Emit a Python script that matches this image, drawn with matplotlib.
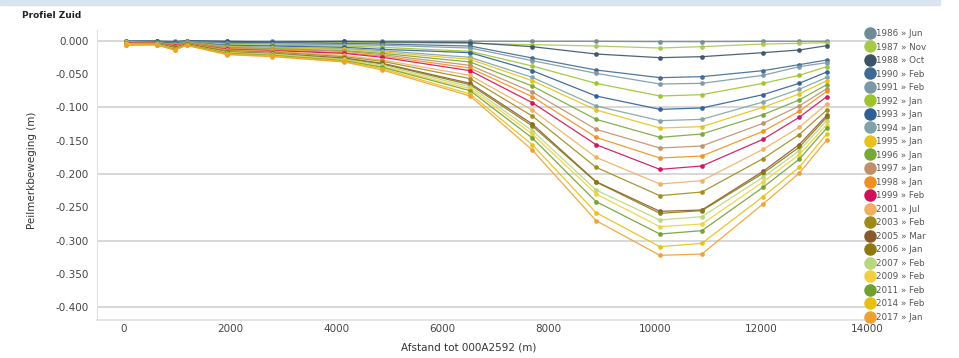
import matplotlib
matplotlib.use("Agg")
import matplotlib.pyplot as plt
from matplotlib.lines import Line2D
from matplotlib.patches import Rectangle

# ─── data ──────────────────────────────────────────────────────
afstand = [50, 620, 960, 1185, 1940, 2800, 4150, 4870, 6520, 7690,
           8890, 10090, 10880, 12030, 12710, 13230]

labels = ["1986 » Jun", "1987 » Nov", "1988 » Oct", "1990 » Feb", "1991 » Feb",
          "1992 » Jan", "1993 » Jan", "1994 » Jan", "1995 » Jan", "1996 » Jan",
          "1997 » Jan", "1998 » Jan", "1999 » Feb", "2001 » Jul", "2003 » Feb",
          "2005 » Mar", "2006 » Jan", "2007 » Feb", "2009 » Feb", "2011 » Feb",
          "2014 » Feb", "2017 » Jan"]

colors = ["#6f8d98", "#a8c84a", "#3a5366", "#3f6a94", "#7c98a6",
          "#9dc42c", "#2f5f94", "#7fa3a8", "#e6c21a", "#78a838",
          "#c0906a", "#f0901e", "#d0105a", "#f0b060", "#a08a18",
          "#8a5a2a", "#8c7a10", "#b8d880", "#f0d040", "#70a030",
          "#e8c010", "#f0a030"]

s1986 = [0.000, 0.000, -0.001, 0.000, -0.001, -0.001, -0.001, -0.001, -0.001, -0.001, -0.001, -0.0015, -0.0015, -0.001, -0.001, -0.001]
s1987 = [-0.002, -0.001, -0.003, -0.001, -0.003, -0.003, -0.003, -0.003, -0.004, -0.006, -0.008, -0.011, -0.009, -0.005, -0.004, -0.003]
s1988 = [-0.001, -0.001, -0.002, 0.000, -0.001, -0.002, -0.001, -0.002, -0.003, -0.009, -0.020, -0.0255, -0.024, -0.018, -0.014, -0.0075]
s1990 = [-0.001, -0.001, -0.003, -0.001, -0.003, -0.003, -0.004, -0.005, -0.008, -0.026, -0.044, -0.0555, -0.054, -0.045, -0.036, -0.029]
s1991 = [-0.001, -0.002, -0.003, -0.001, -0.004, -0.005, -0.006, -0.007, -0.011, -0.030, -0.049, -0.065, -0.064, -0.052, -0.039, -0.033]
s1992 = [-0.002, -0.002, -0.004, -0.002, -0.006, -0.007, -0.008, -0.010, -0.016, -0.038, -0.064, -0.083, -0.081, -0.064, -0.052, -0.039]
s1993 = [-0.002, -0.002, -0.004, -0.002, -0.007, -0.008, -0.010, -0.013, -0.018, -0.045, -0.083, -0.103, -0.101, -0.081, -0.064, -0.047]
s1994 = [-0.002, -0.003, -0.005, -0.002, -0.008, -0.010, -0.012, -0.015, -0.025, -0.055, -0.098, -0.120, -0.118, -0.092, -0.073, -0.055]
s1995 = [-0.002, -0.003, -0.006, -0.003, -0.009, -0.011, -0.013, -0.017, -0.028, -0.060, -0.104, -0.131, -0.129, -0.100, -0.080, -0.060]
s1996 = [-0.003, -0.003, -0.006, -0.003, -0.010, -0.012, -0.015, -0.019, -0.032, -0.068, -0.118, -0.145, -0.140, -0.111, -0.089, -0.066]
s1997 = [-0.003, -0.003, -0.007, -0.003, -0.011, -0.013, -0.016, -0.021, -0.037, -0.077, -0.133, -0.161, -0.158, -0.124, -0.098, -0.072]
s1998 = [-0.003, -0.004, -0.007, -0.004, -0.012, -0.014, -0.018, -0.023, -0.041, -0.084, -0.145, -0.176, -0.173, -0.136, -0.106, -0.076]
s1999 = [-0.003, -0.004, -0.008, -0.004, -0.013, -0.015, -0.019, -0.025, -0.045, -0.093, -0.156, -0.193, -0.188, -0.148, -0.115, -0.084]
s2001 = [-0.004, -0.004, -0.009, -0.004, -0.014, -0.016, -0.022, -0.029, -0.052, -0.104, -0.175, -0.215, -0.210, -0.163, -0.130, -0.095]
s2003 = [-0.004, -0.004, -0.010, -0.005, -0.015, -0.017, -0.024, -0.031, -0.057, -0.113, -0.190, -0.2325, -0.227, -0.177, -0.141, -0.104]
s2005 = [-0.005, -0.005, -0.011, -0.005, -0.017, -0.019, -0.026, -0.034, -0.064, -0.125, -0.2115, -0.256, -0.254, -0.196, -0.156, -0.112]
s2006 = [-0.005, -0.005, -0.011, -0.005, -0.017, -0.020, -0.027, -0.035, -0.066, -0.128, -0.212, -0.259, -0.255, -0.199, -0.160, -0.115]
s2007 = [-0.005, -0.005, -0.012, -0.006, -0.018, -0.020, -0.028, -0.037, -0.069, -0.135, -0.224, -0.269, -0.264, -0.205, -0.165, -0.120]
s2009 = [-0.005, -0.006, -0.012, -0.006, -0.018, -0.021, -0.029, -0.039, -0.072, -0.140, -0.230, -0.279, -0.275, -0.212, -0.171, -0.126]
s2011 = [-0.006, -0.006, -0.013, -0.006, -0.019, -0.022, -0.030, -0.040, -0.075, -0.146, -0.2415, -0.290, -0.285, -0.220, -0.178, -0.131]
s2014 = [-0.006, -0.006, -0.014, -0.007, -0.020, -0.023, -0.031, -0.042, -0.080, -0.156, -0.258, -0.309, -0.304, -0.234, -0.190, -0.140]
s2017 = [-0.007, -0.006, -0.014, -0.007, -0.021, -0.024, -0.032, -0.044, -0.083, -0.164, -0.270, -0.322, -0.320, -0.245, -0.199, -0.149]

series = [s1986, s1987, s1988, s1990, s1991, s1992, s1993, s1994, s1995, s1996,
          s1997, s1998, s1999, s2001, s2003, s2005, s2006, s2007, s2009, s2011,
          s2014, s2017]

yticks = [0.0, -0.05, -0.1, -0.15, -0.2, -0.25, -0.3, -0.35, -0.4]
xticks = [0, 2000, 4000, 6000, 8000, 10000, 12000, 14000]

# ─── figure ────────────────────────────────────────────────────
W, H = 959, 358
fig = plt.figure(figsize=(W / 100, H / 100), dpi=100)
fig.patches.append(Rectangle((0, 1 - 5 / H), 940 / W, 5 / H,
                             transform=fig.transFigure, color="#d9e4ef", zorder=0))
fig.text(22 / W, 1 - 16 / H, "Profiel Zuid", fontsize=6.5, fontweight="bold",
         color="#222222", va="center", ha="left")

ax = fig.add_axes([97 / W, 1 - 320 / H, (873 - 97) / W, (320 - 30) / H])

for vals, col in zip(series, colors):
    ax.plot(afstand, vals, color=col, lw=0.9, alpha=0.9, marker="o", ms=2.4,
            mec=col, mfc=col, zorder=3)

ax.set_xlim(-500, 14100)
ax.set_ylim(-0.419, 0.016)
ax.set_xticks(xticks)
ax.set_yticks(yticks)
ax.set_yticklabels([f"{v:.3f}" for v in yticks])
for g in [0.0, -0.1, -0.2, -0.3, -0.4]:
    ax.axhline(g, color="#d8d8d8", lw=1.4, zorder=1)

ax.tick_params(axis="both", length=0, labelsize=7.5, labelcolor="#444444")
ax.tick_params(axis="y", pad=6)
ax.tick_params(axis="x", pad=3)
for side in ["top", "right"]:
    ax.spines[side].set_visible(False)
ax.spines["left"].set_color("#e0e0e0")
ax.spines["bottom"].set_color("#e0e0e0")
ax.spines["bottom"].set_linewidth(1.2)

ax.set_ylabel("Peilmerkbeweging (m)", fontsize=7.5, color="#333333")
ax.yaxis.set_label_coords((37 - 97) / (873 - 97), 0.517)
ax.set_xlabel("Afstand tot 000A2592 (m)", fontsize=7.5, color="#333333")
ax.xaxis.set_label_coords((469 - 97) / (873 - 97), -(343 - 320) / (320 - 30))

handles = [Line2D([], [], ls="none", marker="o", ms=8, mfc=c, mec=c) for c in colors]
leg = fig.legend(handles, labels, loc="upper left",
                 bbox_to_anchor=(866 / W, 1 - 29 / H), frameon=False,
                 fontsize=6.3, labelcolor="#555555", handlelength=0.8,
                 handletextpad=0.4, labelspacing=0.515, borderaxespad=0,
                 borderpad=0)

fig.savefig("out.png", dpi=100)
